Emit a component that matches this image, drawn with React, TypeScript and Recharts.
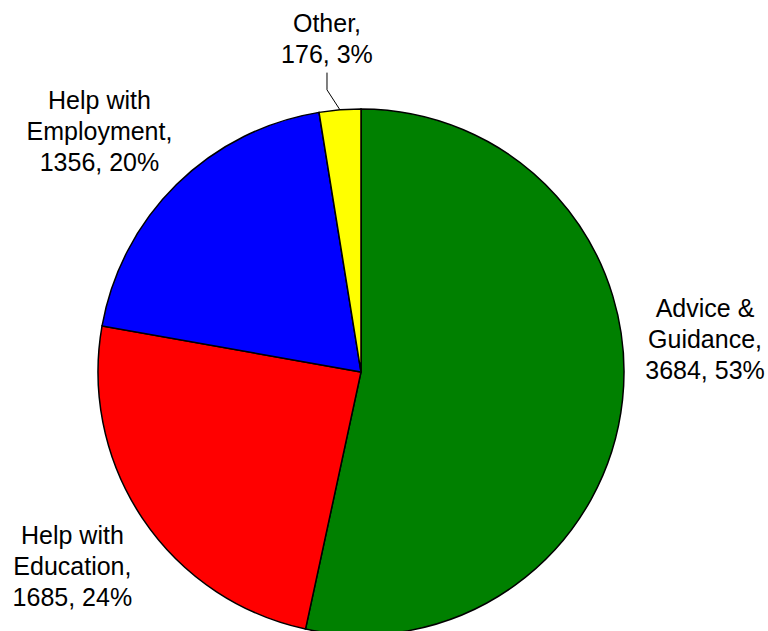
import { PieChart, Pie, Cell } from 'recharts'

const categories = ['Advice & Guidance', 'Help with Education', 'Help with Employment', 'Other']
const counts = [3684, 1685, 1356, 176]
const colors = ['#008000', '#FF0000', '#0000FF', '#FFFF00']

// hand nudges so labels land where the original put them
const labelNudge = [
  [-4, -70],
  [2, -1],
  [-16, 8],
  [-6, 15],
]

const data = categories.map((name, i) => ({ name, value: counts[i] }))

const RAD = Math.PI / 180
const LINE_H = 31

function wrap(text: string, max = 10) {
  const words = text.split(' ')
  const lines: string[] = []
  let cur = ''
  for (const w of words) {
    const next = cur ? cur + ' ' + w : w
    if (cur && next.length > max) {
      lines.push(cur)
      cur = w
    } else {
      cur = next
    }
  }
  if (cur) lines.push(cur)
  return lines
}

function renderLabel(props: any) {
  const { cx, cy, midAngle, outerRadius, index, name, value, percent } = props
  const r = outerRadius + 87
  const [nx, ny] = labelNudge[index] ?? [0, 0]
  const x = cx + r * Math.cos(-midAngle * RAD) + nx
  const y = cy + r * Math.sin(-midAngle * RAD) + ny
  const lines = [...wrap(name), `${value}, ${Math.round(percent * 100)}%`]
  lines[lines.length - 2] += ','
  const top = y - ((lines.length - 1) * LINE_H) / 2

  let leader = null
  if (percent < 0.05) {
    const sx = cx + outerRadius * Math.cos(-midAngle * RAD)
    const sy = cy + outerRadius * Math.sin(-midAngle * RAD)
    const endY = top + (lines.length - 1) * LINE_H + 19
    leader = (
      <polyline
        points={`${sx},${sy} ${x},${sy - 20} ${x},${endY}`}
        fill="none"
        stroke="#000"
        strokeWidth={1}
      />
    )
  }

  return (
    <g key={`lbl-${index}`}>
      {leader}
      <text
        x={x}
        y={y}
        textAnchor="middle"
        fill="#000"
        fontSize={25}
        fontFamily="'Liberation Sans', Arial, sans-serif"
      >
        {lines.map((l, i) => (
          <tspan key={i} x={x} y={top + i * LINE_H} dominantBaseline="central">
            {l}
          </tspan>
        ))}
      </text>
    </g>
  )
}

export default function App() {
  return (
    <div style={{ position: 'absolute', left: 0, top: 0, width: 768, height: 631, background: '#fff' }}>
      <PieChart width={768} height={631} margin={{ top: 0, right: 0, bottom: 0, left: 0 }}>
        <Pie
          data={data}
          dataKey="value"
          nameKey="name"
          cx={361}
          cy={372}
          outerRadius={263}
          startAngle={90}
          endAngle={-270}
          stroke="#000"
          strokeWidth={1.5}
          label={renderLabel}
          labelLine={false}
          isAnimationActive={false}
        >
          {data.map((d, i) => (
            <Cell key={`cell-${i}`} fill={colors[i]} />
          ))}
        </Pie>
      </PieChart>
    </div>
  )
}
